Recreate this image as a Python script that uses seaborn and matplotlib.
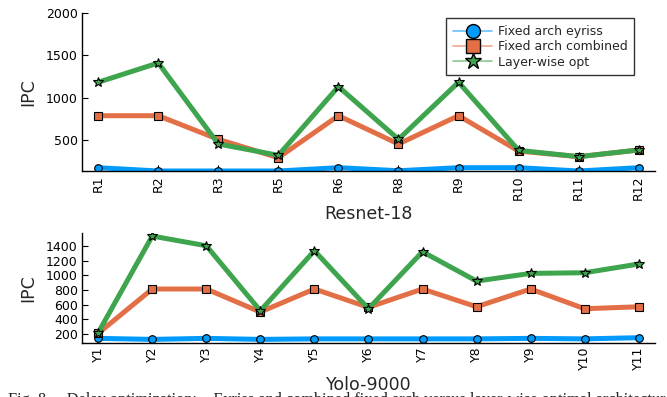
import numpy as np
import pandas as pd
import matplotlib
matplotlib.use("Agg")
import matplotlib.pyplot as plt
from matplotlib.colors import to_rgba
from matplotlib.lines import Line2D
import seaborn as sns

# ---- data -------------------------------------------------------------
resnet_layers = ["R1", "R2", "R3", "R5", "R6", "R8", "R9", "R10", "R11", "R12"]
resnet_eyriss = [173, 134, 134, 134, 173, 137, 173, 173, 134, 173]
resnet_combined = [787, 787, 508, 291, 787, 453, 787, 370, 303, 382]
resnet_layerwise = [1182, 1410, 453, 319, 1130, 508, 1182, 378, 303, 382]

yolo_layers = ["Y1", "Y2", "Y3", "Y4", "Y5", "Y6", "Y7", "Y8", "Y9", "Y10", "Y11"]
yolo_eyriss = [141, 127, 141, 127, 134, 134, 134, 134, 141, 134, 150]
yolo_combined = [210, 814, 814, 500, 814, 564, 814, 572, 814, 545, 572]
yolo_layerwise = [218, 1536, 1404, 517, 1336, 545, 1322, 922, 1027, 1036, 1155]

series_names = ["Fixed arch eyriss", "Fixed arch combined", "Layer-wise opt"]
series_colors = ["#009AFA", "#E36F47", "#3EA44E"]
series_markers = ["o", "s", "*"]
series_msize = [5.5, 6.0, 7.0]
legend_msize = [10, 10.5, 12]

sns.set_theme(style="white")
plt.rcParams["font.family"] = ["DejaVu Sans"]

fig = plt.figure(figsize=(6.67, 3.97), dpi=100)
ax_top = fig.add_axes([0.1229, 0.5693, 0.859, 0.398])
ax_bot = fig.add_axes([0.1229, 0.1368, 0.859, 0.2756])


def draw_panel(ax, labels, values, xlabel, ylim, yticks, xpad):
    pos = np.arange(len(labels))
    for name, vals, col, mk, ms in zip(series_names, values, series_colors,
                                       series_markers, series_msize):
        df = pd.DataFrame({"pos": pos, "IPC": vals})
        sns.lineplot(data=df, x="pos", y="IPC", ax=ax, color=col, lw=3.6,
                     marker=mk, markersize=ms, markeredgecolor="black",
                     markeredgewidth=0.8, markerfacecolor=col, sort=False,
                     legend=False)
    ax.set_xlim(-xpad, len(labels) - 1 + xpad)
    ax.set_ylim(*ylim)
    ax.set_yticks(yticks)
    ax.set_yticklabels([str(t) for t in yticks], fontsize=9)
    ax.set_xticks(pos)
    ax.set_xticklabels(labels, rotation=90, fontsize=9)
    ax.set_xlabel(xlabel, fontsize=12.5, labelpad=4)
    ax.set_ylabel("IPC", fontsize=12.5, labelpad=6)
    for side in ("top", "right"):
        ax.spines[side].set_visible(False)
    for side in ("left", "bottom"):
        ax.spines[side].set_color("black")
        ax.spines[side].set_linewidth(1.0)
    ax.tick_params(axis="both", direction="in", length=4, width=0.8,
                   colors="black", pad=3, left=True, bottom=True)
    ax.grid(False)


draw_panel(ax_top, resnet_layers,
           [resnet_eyriss, resnet_combined, resnet_layerwise],
           "Resnet-18", (134, 2000), [500, 1000, 1500, 2000], 0.27)
draw_panel(ax_bot, yolo_layers,
           [yolo_eyriss, yolo_combined, yolo_layerwise],
           "Yolo-9000", (82, 1574), [200, 400, 600, 800, 1000, 1200, 1400], 0.30)

# legend keys: thin faded line, opaque outlined marker
handles = [
    Line2D([0], [0], color=to_rgba(c, 0.6), lw=1.2, marker=m, markersize=s,
           markerfacecolor=c, markeredgecolor="black", markeredgewidth=1.0)
    for c, m, s in zip(series_colors, series_markers, legend_msize)
]
leg = ax_top.legend(handles, series_names, loc="upper right",
                    bbox_to_anchor=(0.964, 0.967), fontsize=9, frameon=True,
                    fancybox=False, handlelength=3.1, handletextpad=0.45,
                    labelspacing=0.18, borderpad=0.55, borderaxespad=0.0)
leg.get_frame().set_edgecolor("black")
leg.get_frame().set_linewidth(1.0)

# caption line of the page, cut by the lower edge
fig.text(0.012, -0.0185,
         "Fig. 8.    Delay optimization:    Eyriss and combined fixed arch versus layer-wise optimal architecture",
         family=["Liberation Serif", "DejaVu Serif"], fontsize=11.7,
         ha="left", va="baseline")

fig.savefig("out.png", dpi=100)
